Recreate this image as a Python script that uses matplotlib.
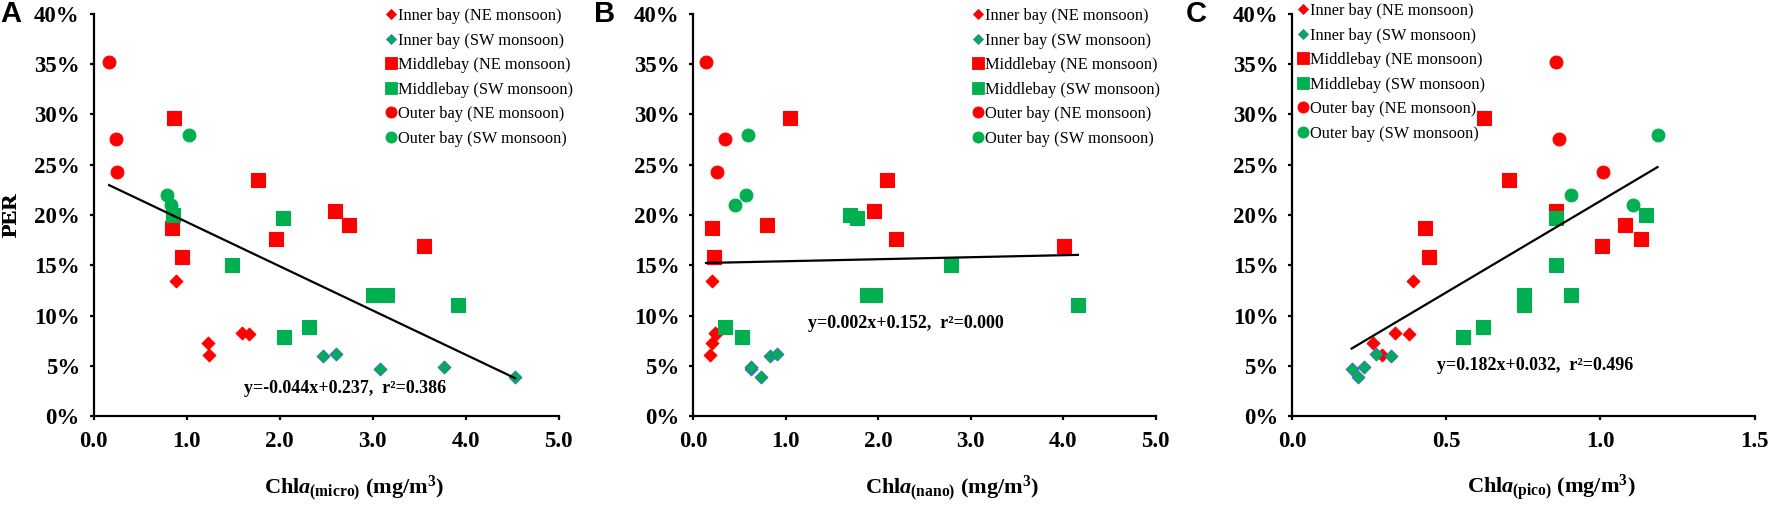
import numpy as np
import matplotlib
matplotlib.use('Agg')
import matplotlib.pyplot as plt
from matplotlib.lines import Line2D
from matplotlib.ticker import PercentFormatter, FormatStrFormatter

plt.rcParams['font.family'] = ['Liberation Serif', 'DejaVu Serif']
plt.rcParams['mathtext.fontset'] = 'custom'
plt.rcParams['mathtext.rm'] = 'Liberation Serif:bold'
plt.rcParams['mathtext.it'] = 'Liberation Serif:italic:bold'
plt.rcParams['mathtext.bf'] = 'Liberation Serif:bold'

# PER values (same stations in every panel)
per_inner_ne = [0.134, 0.073, 0.061, 0.083, 0.082]
per_inner_sw = [0.060, 0.062, 0.047, 0.049, 0.039]
per_middle_ne = [0.297, 0.235, 0.204, 0.190, 0.176, 0.169, 0.187, 0.158]
per_middle_sw = [0.197, 0.150, 0.120, 0.120, 0.110, 0.089, 0.079, 0.200]
per_outer_ne = [0.352, 0.276, 0.243]
per_outer_sw = [0.280, 0.220, 0.210]

# Chla micro
micro_inner_ne = [0.88, 1.23, 1.24, 1.59, 1.67]
micro_inner_sw = [2.47, 2.60, 3.08, 3.77, 4.53]
micro_middle_ne = [0.86, 1.77, 2.59, 2.74, 1.96, 3.55, 0.84, 0.95]
micro_middle_sw = [2.03, 1.49, 3.00, 3.15, 3.92, 2.32, 2.05, 0.85]
micro_outer_ne = [0.165, 0.24, 0.255]
micro_outer_sw = [1.02, 0.79, 0.83]

# Chla nano
nano_inner_ne = [0.20, 0.20, 0.18, 0.23, 0.25]
nano_inner_sw = [0.83, 0.91, 0.62, 0.62, 0.73]
nano_middle_ne = [1.05, 2.09, 1.95, 0.80, 2.19, 4.01, 0.20, 0.22]
nano_middle_sw = [1.77, 2.79, 1.88, 1.97, 4.16, 0.34, 0.53, 1.69]
nano_outer_ne = [0.137, 0.343, 0.26]
nano_outer_sw = [0.588, 0.571, 0.455]

# Chla pico
pico_inner_ne = [0.393, 0.263, 0.291, 0.332, 0.380]
pico_inner_sw = [0.322, 0.273, 0.193, 0.234, 0.214]
pico_middle_ne = [0.622, 0.704, 0.855, 1.081, 1.133, 1.005, 0.432, 0.444]
pico_middle_sw = [0.855, 0.855, 0.753, 0.906, 0.753, 0.620, 0.555, 1.149]
pico_outer_ne = [0.855, 0.867, 1.008]
pico_outer_sw = [1.185, 0.906, 1.106]

group_labels = ['Inner bay (NE monsoon)', 'Inner bay (SW monsoon)',
                'Middlebay (NE monsoon)', 'Middlebay (SW monsoon)',
                'Outer bay (NE monsoon)', 'Outer bay (SW monsoon)']
per_groups = [per_inner_ne, per_inner_sw, per_middle_ne, per_middle_sw, per_outer_ne, per_outer_sw]

# regression: slope, intercept, r2
fit_micro = (-0.044, 0.237, 0.386)
fit_nano = (0.002, 0.152, 0.000)
fit_pico = (0.182, 0.032, 0.496)

red = '#ff0000'
green = '#00b050'
styles = [
    dict(marker='D', color=red, s=42, edge=red),
    dict(marker='D', color=green, s=42, edge='#3a6fc4'),
    dict(marker='s', color=red, s=95, edge=red),
    dict(marker='s', color=green, s=95, edge=green),
    dict(marker='o', color=red, s=85, edge=red),
    dict(marker='o', color=green, s=85, edge=green),
]
leg_ms = [5.5, 5.5, 8, 8, 8, 8]

panels = [
    dict(letter='A', xs=[micro_inner_ne, micro_inner_sw, micro_middle_ne, micro_middle_sw, micro_outer_ne, micro_outer_sw],
         fit=fit_micro, xmax=5.0, xstep=1.0, sub='micro', eq_xy=(2.70, 0.027),
         rect=[0.0529, 0.1827, 0.2624, 0.7898], leg_xy=(387, 8), letter_x=11),
    dict(letter='B', xs=[nano_inner_ne, nano_inner_sw, nano_middle_ne, nano_middle_sw, nano_outer_ne, nano_outer_sw],
         fit=fit_nano, xmax=5.0, xstep=1.0, sub='nano', eq_xy=(2.30, 0.092),
         rect=[0.3913, 0.1827, 0.2608, 0.7898], leg_xy=(974, 8), letter_x=605),
    dict(letter='C', xs=[pico_inner_ne, pico_inner_sw, pico_middle_ne, pico_middle_sw, pico_outer_ne, pico_outer_sw],
         fit=fit_pico, xmax=1.5, xstep=0.5, sub='pico', eq_xy=(0.787, 0.050),
         rect=[0.7292, 0.1827, 0.2610, 0.7898], leg_xy=(1299, 3), letter_x=1196),
]

W, H = 1772, 509
fig = plt.figure(figsize=(W / 100, H / 100), dpi=100)

for p in panels:
    ax = fig.add_axes(p['rect'])
    for xs, ys, st in zip(p['xs'], per_groups, styles):
        ax.scatter(xs, ys, marker=st['marker'], s=st['s'], c=st['color'],
                   edgecolors=st['edge'], linewidths=0.8, zorder=3)

    allx = np.concatenate([np.asarray(x) for x in p['xs']])
    slope, icpt, r2 = p['fit']
    lx = np.array([allx.min(), allx.max()])
    ax.plot(lx, slope * lx + icpt, color='black', lw=1.6, zorder=4)
    sign = '+' if icpt >= 0 else '-'
    ax.text(p['eq_xy'][0], p['eq_xy'][1],
            f'y={slope:.3f}x{sign}{abs(icpt):.3f},  r\u00b2={r2:.3f}',
            ha='center', va='center', fontsize=13, fontweight='bold', zorder=5)

    ax.set_xlim(0, p['xmax'])
    ax.set_ylim(0, 0.40)
    ax.set_xticks(np.arange(0, p['xmax'] + 1e-9, p['xstep']))
    ax.set_yticks(np.arange(0, 0.401, 0.05))
    ax.xaxis.set_major_formatter(FormatStrFormatter('%.1f'))
    ax.yaxis.set_major_formatter(PercentFormatter(1.0, decimals=0))
    ax.spines['top'].set_visible(False)
    ax.spines['right'].set_visible(False)
    for sp in ['left', 'bottom']:
        ax.spines[sp].set_linewidth(1.6)
    ax.tick_params(axis='both', direction='out', length=3, width=1.6, labelsize=16.5)
    ax.tick_params(axis='x', pad=8)
    ax.tick_params(axis='y', pad=7)
    for lab in ax.get_xticklabels() + ax.get_yticklabels():
        lab.set_fontweight('bold')

    ax.set_ylabel('PER', fontsize=16, fontweight='bold', va='center')
    ax.yaxis.set_label_coords(-(p['rect'][0] * W - 12) / (p['rect'][2] * W), 0.5)
    ax.set_xlabel(r'Chl$\mathit{a}_{\mathrm{(' + p['sub'] + r')}}$ (mg/m$^{\mathrm{3}}$)',
                  fontsize=16, fontweight='bold', va='center')
    ax.xaxis.set_label_coords(0.56, -0.179)

    handles = [Line2D([], [], ls='none', marker=st['marker'], markersize=ms,
                      markerfacecolor=st['color'], markeredgecolor=st['edge'], markeredgewidth=0.6)
               for st, ms in zip(styles, leg_ms)]
    lx0, ly0 = p['leg_xy']
    ax.legend(handles, group_labels, loc='upper left',
              bbox_to_anchor=(lx0 / W, 1 - ly0 / H), bbox_transform=fig.transFigure,
              frameon=False, fontsize=11.8, handlelength=0.5, handletextpad=0.2,
              borderpad=0, borderaxespad=0, labelspacing=0.52)

    fig.text(p['letter_x'] / W, 1 - 14 / H, p['letter'], ha='center', va='center',
             fontsize=21, fontweight='bold', family='Liberation Sans')

fig.savefig('out.png', dpi=100)
